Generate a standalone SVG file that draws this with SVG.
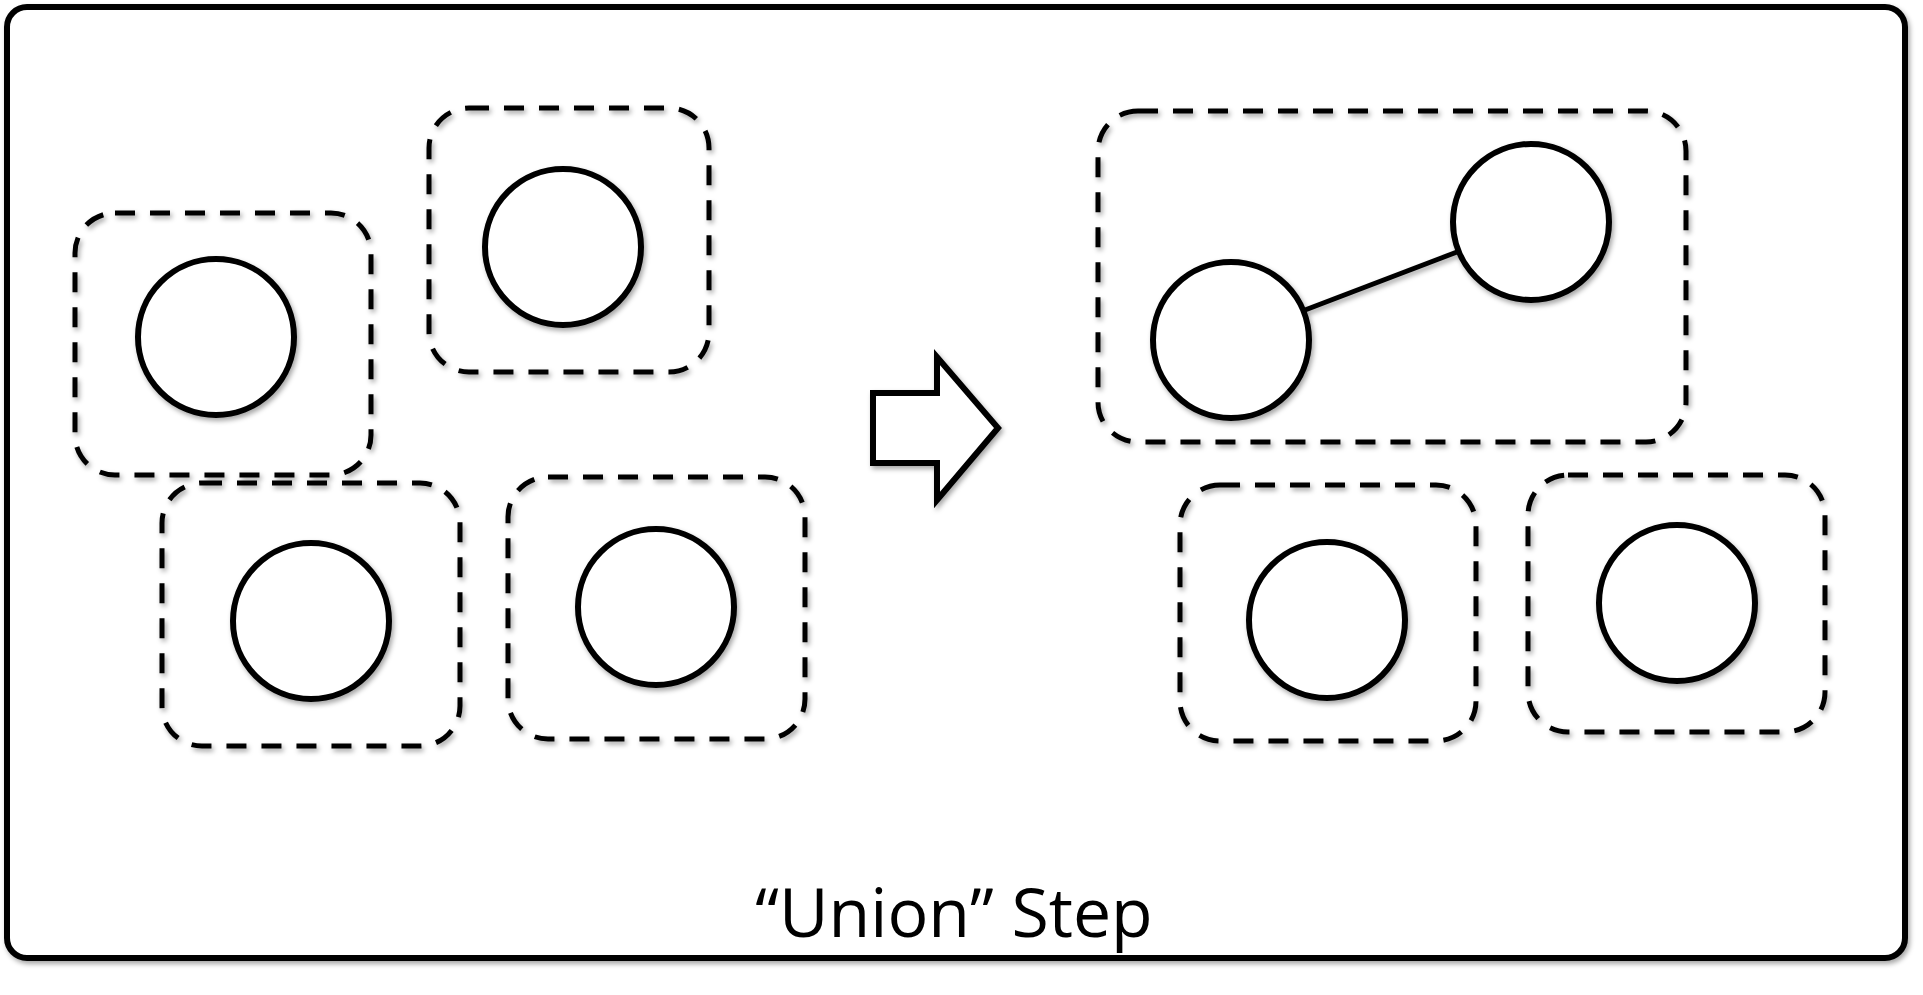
<svg xmlns="http://www.w3.org/2000/svg" width="1923" height="995" viewBox="0 0 1923 995">
  <defs>
    <filter id="sh" x="-10%" y="-10%" width="130%" height="130%">
      <feDropShadow dx="2" dy="3" stdDeviation="2.5" flood-color="#000" flood-opacity="0.35"/>
    </filter>
  </defs>
  <style>
    .frame { fill: #fff; stroke: #000; stroke-width: 6; filter: url(#sh); }
    .group { fill: none; stroke: #000; stroke-width: 5; stroke-dasharray: 20 15; filter: url(#sh); }
    .node { fill: #fff; stroke: #000; stroke-width: 6; filter: url(#sh); }
    .edge { stroke: #000; stroke-width: 5; fill: none; filter: url(#sh); }
    .arrow { fill: #fff; stroke: #000; stroke-width: 6; stroke-linejoin: miter; filter: url(#sh); }
    .label { font-family: "Open Sans", "Noto Sans", "Liberation Sans", sans-serif; font-size: 68px; fill: #000; }
  </style>
  <rect width="1923" height="995" fill="#fff"/>
  <rect id="frame" class="frame" x="7" y="7" width="1898" height="951" rx="20" ry="20"/>

  <g id="left-groups">
    <rect id="g1" class="group" x="75" y="213" width="296" height="262" rx="40" ry="40"/>
    <rect id="g2" class="group" x="429" y="108" width="280" height="264" rx="40" ry="40"/>
    <rect id="g3" class="group" x="162" y="483" width="298" height="263" rx="40" ry="40"/>
    <rect id="g4" class="group" x="508" y="477" width="297" height="262" rx="40" ry="40"/>
  </g>
  <g id="n1"><circle class="node" cx="216" cy="337" r="78"/></g>
  <g id="n2"><circle class="node" cx="563" cy="247" r="78"/></g>
  <g id="n3"><circle class="node" cx="311" cy="621" r="78"/></g>
  <g id="n4"><circle class="node" cx="656" cy="607" r="78"/></g>

  <g id="step-arrow">
    <polygon class="arrow" points="873,393 937,393 937,357 998,428 937,500 937,463 873,463"/>
  </g>

  <g id="right-groups">
    <rect id="g5" class="group" x="1098" y="111" width="588" height="331" rx="40" ry="40"/>
    <rect id="g6" class="group" x="1180" y="485" width="296" height="256" rx="40" ry="40"/>
    <rect id="g7" class="group" x="1528" y="475" width="297" height="257" rx="40" ry="40"/>
  </g>
  <g id="connectors">
    <line class="edge" x1="1305" y1="310" x2="1457" y2="252"/>
  </g>
  <g id="n5"><circle class="node" cx="1231" cy="340" r="78"/></g>
  <g id="n6"><circle class="node" cx="1531" cy="222" r="78"/></g>
  <g id="n7"><circle class="node" cx="1327" cy="620" r="78"/></g>
  <g id="n8"><circle class="node" cx="1677" cy="603" r="78"/></g>

  <text class="label" x="954" y="937" text-anchor="middle">“Union” Step</text>
</svg>
